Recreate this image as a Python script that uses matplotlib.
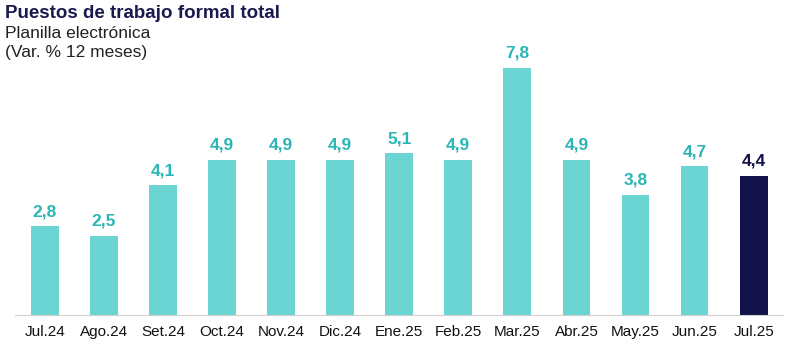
import matplotlib.pyplot as plt

meses = ['Jul.24', 'Ago.24', 'Set.24', 'Oct.24', 'Nov.24', 'Dic.24', 'Ene.25',
         'Feb.25', 'Mar.25', 'Abr.25', 'May.25', 'Jun.25', 'Jul.25']
valores = [2.8, 2.5, 4.1, 4.9, 4.9, 4.9, 5.1, 4.9, 7.8, 4.9, 3.8, 4.7, 4.4]

TURQUESA = '#6ad5d2'
TEXTO_TURQ = '#2bb6b6'
AZUL = '#13124a'

plt.rcParams['font.family'] = ['Liberation Sans', 'DejaVu Sans']

fig = plt.figure(figsize=(8, 3.53), dpi=100)
ax = fig.add_axes([0.019, 0.1076, 0.96, 0.779])

colores = [TURQUESA] * (len(valores) - 1) + [AZUL]
colores_txt = [TEXTO_TURQ] * (len(valores) - 1) + [AZUL]
x = range(len(meses))
ax.bar(x, valores, width=0.47, color=colores)

# etiquetas de valor con coma decimal
for i, v in enumerate(valores):
    ax.annotate(f'{v:.1f}'.replace('.', ','), (i, v), xytext=(0, 5),
                textcoords='offset points', ha='center', va='bottom',
                fontsize=12.5, fontweight='bold', color=colores_txt[i])

ax.set_xlim(-0.5, 12.5)
ax.set_ylim(0, 8.675)
ax.set_xticks(list(x))
ax.set_xticklabels(meses, fontsize=11, color='#111111')
ax.tick_params(axis='x', length=0, pad=7)
ax.set_yticks([])
for s in ['top', 'right', 'left']:
    ax.spines[s].set_visible(False)
ax.spines['bottom'].set_color('#d0d0d0')

fig.text(0.006, 0.985, 'Puestos de trabajo formal total', fontsize=13.5,
         fontweight='bold', color='#1b1a4f', va='top')
fig.text(0.006, 0.927, 'Planilla electrónica', fontsize=12.5, color='#222222', va='top')
fig.text(0.006, 0.872, '(Var. % 12 meses)', fontsize=12.5, color='#222222', va='top')

fig.savefig('out.png', dpi=100)
